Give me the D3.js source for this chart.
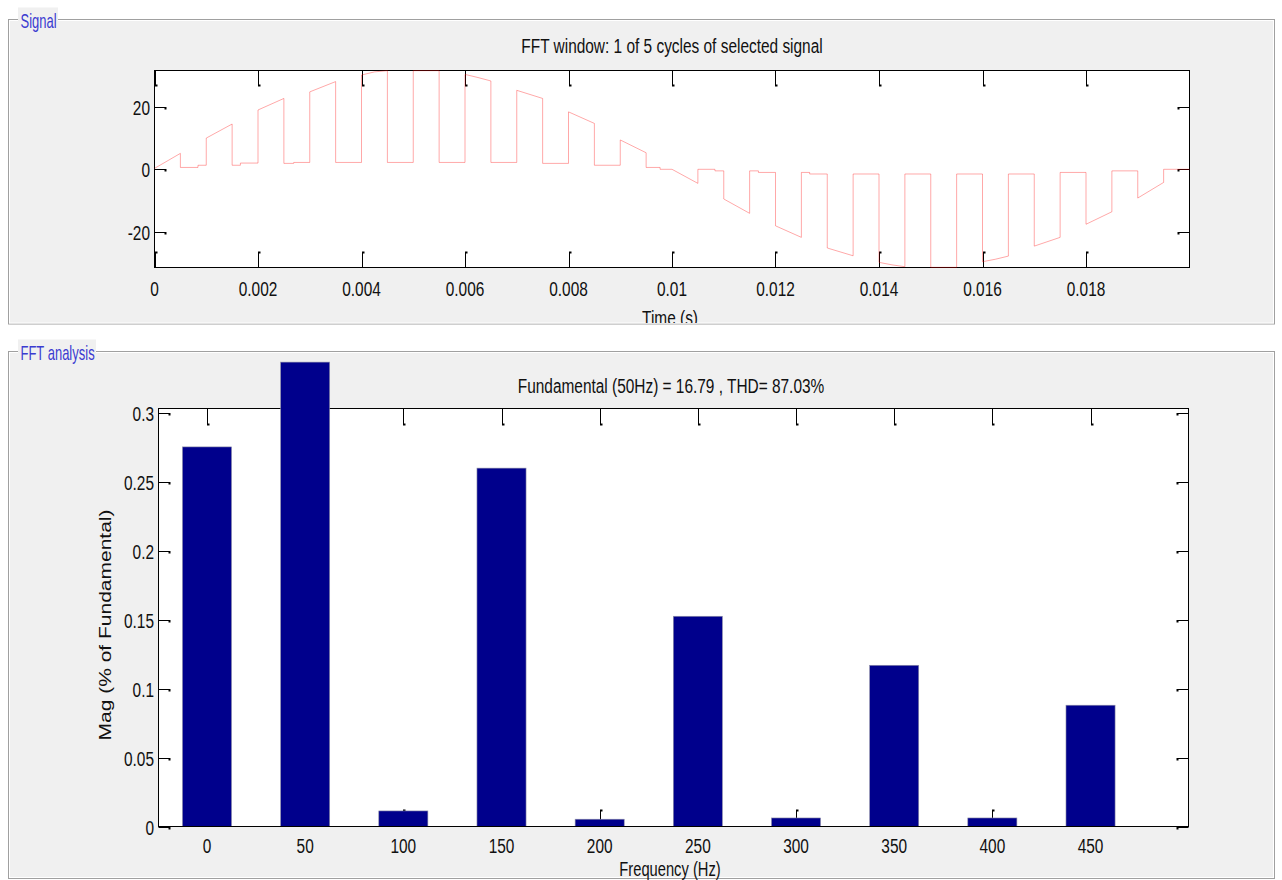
<!DOCTYPE html>
<html><head><meta charset="utf-8">
<script src="https://cdn.jsdelivr.net/npm/d3@7"></script>
<style>body{margin:0;background:#fff}svg{display:block}</style>
</head><body><svg id="c" width="1282" height="880"></svg>
<script>
// ---------- DATA ----------
// Signal waveform breakpoints (time in ms, value)
const sigTimeMs = [0,0.5, 0.5,0.84,0.84,1.0, 1.0,1.5, 1.5,1.66,1.66,2.0, 2.0,2.5, 2.5,2.69,2.69,3.0, 3.0,3.5, 3.5,4.0, 4.0,4.25,4.5, 4.5,5.0, 5.0,5.5, 5.5,6.0, 6.0,6.25,6.5, 6.5,7.0, 7.0,7.5, 7.5,8.0, 8.0,8.5, 8.5,9.0, 9.0,9.5, 9.5,9.77,9.77,10.0, 10.5, 10.5,10.83,10.83,11.0, 11.0,11.5, 11.5,11.67,11.67,12.0, 12.0,12.5, 12.5,12.66,12.66,13.0, 13.0,13.5, 13.5,14.0, 14.0,14.25,14.5, 14.5,15.0, 15.0,15.5, 15.5,16.0, 16.0,16.25,16.5, 16.5,17.0, 17.0,17.5, 17.5,18.0, 18.0,18.5, 18.5,19.0, 19.0,19.5, 19.5,20.0];
const sigValue = [0.3,5.1, 0.6,0.6,1.3,1.3, 10.0,14.5, 1.3,1.3,2.0,2.0, 19.0,22.7, 1.9,1.9,2.2,2.2, 24.8,28.1, 2.2,2.2, 30.2,31.2,31.6, 2.2,2.2, 31.6,31.6, 2.2,2.2, 30.4,29.4,28.3, 2.2,2.2, 25.3,22.7, 1.9,1.9, 18.4,14.7, 1.3,1.3, 9.4,5.3, 0.6,0.6,0,0, -4.5, 0,0,-0.5,-0.5, -9.5,-14.1, -0.5,-0.5,-1.0,-1.0, -18.1,-21.8, -1.0,-1.0,-1.5,-1.5, -25.2,-27.7, -1.5,-1.5, -29.8,-30.6,-31.2, -1.5,-1.5, -31.4,-31.4, -1.5,-1.5, -29.6,-28.8,-27.8, -1.5,-1.5, -24.6,-21.8, -1.0,-1.0, -17.6,-13.6, -0.5,-0.5, -9.2,-4.2, 0,0];
const sigXTicks = [0,0.002,0.004,0.006,0.008,0.01,0.012,0.014,0.016,0.018];
const sigXTickLabels = ["0","0.002","0.004","0.006","0.008","0.01","0.012","0.014","0.016","0.018"];
const sigYTicks = [-20,0,20];
const sigYTickLabels = ["-20","0","20"];

// FFT spectrum
const fftFreq = [0,50,100,150,200,250,300,350,400,450];
const fftMag  = [0.2757,0.3373,0.0113,0.2603,0.0053,0.1527,0.0062,0.1171,0.0062,0.0881];
const fftXTickLabels = ["0","50","100","150","200","250","300","350","400","450"];
const fftYTicks = [0,0.05,0.1,0.15,0.2,0.25,0.3];
const fftYTickLabels = ["0","0.05","0.1","0.15","0.2","0.25","0.3"];

const sigTitle = "FFT window: 1 of 5 cycles of selected signal";
const sigXLabel = "Time (s)";
const fftTitle = "Fundamental (50Hz) = 16.79 , THD= 87.03%";
const fftXLabel = "Frequency (Hz)";
const fftYLabel = "Mag (% of Fundamental)";

// ---------- DRAW ----------
const svg = d3.select("#c");
const FONT = "'Liberation Sans', Arial, Helvetica, sans-serif";
const SX = 0.735;

function txt(g, x, y, s, o = {}) {
  const size = o.size || 21, anchor = o.anchor || "middle", k = o.k || SX;
  let tr = `translate(${x},${y}) scale(${k},1)`;
  if (o.rotate) tr += ` rotate(${o.rotate})`;
  return g.append("text").attr("transform", tr)
    .attr("text-anchor", anchor)
    .style("font-family", FONT).style("font-size", size + "px")
    .attr("fill", o.fill || "#111").text(s);
}

function panel(y0, y1, label, labelW) {
  const g = svg.append("g");
  g.append("rect").attr("x", 8.5).attr("y", y0).attr("width", 1266).attr("height", y1 - y0)
    .attr("fill", "#f0f0f0").attr("stroke", "#a0a0a0").attr("stroke-width", 1);
  g.append("rect").attr("x", 9.5).attr("y", y0 + 1).attr("width", 1264).attr("height", y1 - y0 - 2)
    .attr("fill", "none").attr("stroke", "#ffffff").attr("stroke-width", 1);
  g.append("rect").attr("x", 18).attr("y", y0 - 12).attr("width", labelW).attr("height", 23)
    .attr("fill", "#f0f0f0");
  txt(g, 20.5, y0 + 8, label, { size: 20, anchor: "start", k: 0.65, fill: "#3b3bd0" });
  return g;
}

// Panels
panel(19.5, 324, "Signal", 40);
panel(351.5, 878.5, "FFT analysis", 78);

const defs = svg.append("defs");
defs.append("clipPath").attr("id", "clip1").append("rect").attr("x", 10).attr("y", 20).attr("width", 1263).attr("height", 303);

// ---- Signal axes ----
const sx = d3.scaleLinear().domain([0, 0.02]).range([154.5, 1189.5]);
const sy = d3.scaleLinear().domain([-31.45, 31.65]).range([267.5, 70.5]);
const g1 = svg.append("g").attr("clip-path", "url(#clip1)");
g1.append("rect").attr("x", sx.range()[0]).attr("y", sy.range()[1])
  .attr("width", sx.range()[1] - sx.range()[0]).attr("height", sy.range()[0] - sy.range()[1]).attr("fill", "#fff");

function ticksX(g, scale, ticks, yTop, yBot, len) {
  ticks.forEach(t => {
    const x = Math.round(scale(t)) + 0.5;
    g.append("line").attr("x1", x).attr("x2", x).attr("y1", yTop).attr("y2", yTop + len).attr("stroke", "#000");
    g.append("rect").attr("x", x - 0.5).attr("y", yTop + len - 1).attr("width", 2.5).attr("height", 2).attr("fill", "#000");
    g.append("line").attr("x1", x).attr("x2", x).attr("y1", yBot).attr("y2", yBot - len).attr("stroke", "#000");
    g.append("rect").attr("x", x - 0.5).attr("y", yBot - len - 1).attr("width", 2.5).attr("height", 2).attr("fill", "#000");
  });
}
function ticksY(g, scale, ticks, xL, xR, len) {
  ticks.forEach(t => {
    const y = Math.round(scale(t)) + 0.5;
    g.append("line").attr("x1", xL).attr("x2", xL + len).attr("y1", y).attr("y2", y).attr("stroke", "#000");
    g.append("rect").attr("x", xL + len - 1).attr("y", y - 0.5).attr("width", 2).attr("height", 2.5).attr("fill", "#000");
    g.append("line").attr("x1", xR).attr("x2", xR - len).attr("y1", y).attr("y2", y).attr("stroke", "#000");
    g.append("rect").attr("x", xR - len - 1).attr("y", y - 0.5).attr("width", 2).attr("height", 2.5).attr("fill", "#000");
  });
}

ticksX(g1, sx, sigXTicks, sy.range()[1], sy.range()[0], 15);
ticksY(g1, sy, sigYTicks, sx.range()[0], sx.range()[1], 11);
g1.append("rect").attr("x", sx.range()[0]).attr("y", sy.range()[1])
  .attr("width", sx.range()[1] - sx.range()[0]).attr("height", sy.range()[0] - sy.range()[1])
  .attr("fill", "none").attr("stroke", "#000").attr("stroke-width", 1);

const line = d3.line().x((d, i) => sx(sigTimeMs[i] / 1000)).y((d, i) => sy(sigValue[i]));
g1.append("path").attr("d", line(sigValue)).attr("fill", "none")
  .attr("stroke", "#ff0000").attr("stroke-opacity", 0.34).attr("stroke-width", 1);

sigXTicks.forEach((t, i) => txt(g1, sx(t), 296, sigXTickLabels[i]));
sigYTicks.forEach((t, i) => txt(g1, 150, sy(t) + 8, sigYTickLabels[i], { anchor: "end" }));
txt(g1, 672, 53, sigTitle);
txt(g1, 670, 325, sigXLabel);

// ---- FFT axes ----
const fx = d3.scaleLinear().domain([-24.7, 499.9]).range([158.5, 1188.5]);
const fy = d3.scaleLinear().domain([0, 0.3036]).range([826.5, 408.5]);
const g2 = svg.append("g");
g2.append("rect").attr("x", fx.range()[0]).attr("y", fy.range()[1])
  .attr("width", fx.range()[1] - fx.range()[0]).attr("height", fy.range()[0] - fy.range()[1]).attr("fill", "#fff");
ticksX(g2, fx, fftFreq, fy.range()[1], fy.range()[0], 16);
ticksY(g2, fy, fftYTicks, fx.range()[0], fx.range()[1], 11);
g2.append("rect").attr("x", fx.range()[0]).attr("y", fy.range()[1])
  .attr("width", fx.range()[1] - fx.range()[0]).attr("height", fy.range()[0] - fy.range()[1])
  .attr("fill", "none").attr("stroke", "#000").attr("stroke-width", 1);

const barW = 25; // Hz
g2.selectAll("rect.bar").data(fftFreq).enter().append("rect").attr("class", "bar")
  .attr("x", d => fx(d - barW / 2))
  .attr("width", d => fx(d + barW / 2) - fx(d - barW / 2))
  .attr("y", (d, i) => fy(fftMag[i]))
  .attr("height", (d, i) => fy(0) - fy(fftMag[i]))
  .attr("fill", "#00008c").attr("stroke", "#9090a8").attr("stroke-width", 0.6);
g2.append("line").attr("x1", fx.range()[0]).attr("x2", fx.range()[1])
  .attr("y1", fy(0)).attr("y2", fy(0)).attr("stroke", "#000");

fftFreq.forEach((f, i) => txt(g2, fx(f), 852.5, fftXTickLabels[i]));
fftYTicks.forEach((t, i) => txt(g2, 154, fy(t) + 8, fftYTickLabels[i], { anchor: "end" }));
txt(g2, 671, 393, fftTitle);
txt(g2, 670, 875.5, fftXLabel, { size: 20 });
txt(g2, 111, 625, fftYLabel, { rotate: -90, k: 0.8, size: 21 });
</script></body></html>
